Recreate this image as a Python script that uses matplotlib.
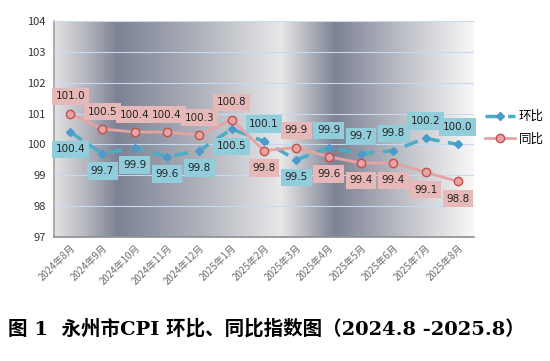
import matplotlib.pyplot as plt
import numpy as np
from matplotlib.colors import LinearSegmentedColormap

plt.rcParams['font.family'] = ['Noto Sans CJK SC', 'DejaVu Sans']

months = ['2024年8月', '2024年9月', '2024年10月', '2024年11月', '2024年12月',
          '2025年1月', '2025年2月', '2025年3月', '2025年4月', '2025年5月',
          '2025年6月', '2025年7月', '2025年8月']
huanbi = [100.4, 99.7, 99.9, 99.6, 99.8, 100.5, 100.1, 99.5, 99.9, 99.7, 99.8, 100.2, 100.0]
tongbi = [101.0, 100.5, 100.4, 100.4, 100.3, 100.8, 99.8, 99.9, 99.6, 99.4, 99.4, 99.1, 98.8]
# label above (+1) or below (-1) the point
huanbi_pos = [-1, -1, -1, -1, -1, -1, 1, -1, 1, 1, 1, 1, 1]
tongbi_pos = [1, 1, 1, 1, 1, 1, -1, 1, -1, -1, -1, -1, -1]

fig = plt.figure(figsize=(5.5, 3.61), dpi=100)
ax = fig.add_axes([54 / 550, 1 - 237 / 361, 420 / 550, 216 / 361])

# metallic background
cmap = LinearSegmentedColormap.from_list('metal', [
    (0.0, '#e2e2e4'), (0.07, '#b8b9c1'), (0.15, '#7d8294'), (0.35, '#b0b3bc'),
    (0.54, '#e8e8e9'), (0.59, '#c0c2c8'), (0.67, '#7d8294'), (0.85, '#c4c6cc'),
    (1.0, '#f8f8f8')])
grad = np.linspace(0, 1, 512).reshape(1, -1)
ax.imshow(grad, cmap=cmap, aspect='auto', extent=[-0.5, 12.5, 97, 104], zorder=0)

x = np.arange(len(months))
ax.set_xlim(-0.5, 12.5)
ax.set_ylim(97, 104)
ax.set_yticks(range(97, 105))
ax.yaxis.grid(True, color='#c6d9f1', lw=0.8, zorder=1)
ax.set_axisbelow(False)

ax.plot(x, huanbi, color='#4bacc6', lw=2.5, ls=(0, (4, 2.5)), marker='D', ms=4.5,
        mfc='#4a9bc9', mec='#4a9bc9', zorder=3, label='环比')
ax.plot(x, tongbi, color='#e6a3a2', lw=2, marker='o', ms=6,
        mfc='#e6a3a2', mec='#c0504d', mew=1, zorder=3, label='同比')

for xi, v, p in zip(x, huanbi, huanbi_pos):
    ax.annotate(f'{v:.1f}', (xi, v), xytext=(0, 12.5 * p), textcoords='offset points',
                ha='center', va='center', fontsize=7.5, color='#222222', zorder=4,
                family='DejaVu Sans',
                bbox=dict(boxstyle='square,pad=0.35', fc='#92cddc', ec='none'))
for xi, v, p in zip(x, tongbi, tongbi_pos):
    ax.annotate(f'{v:.1f}', (xi, v), xytext=(0, 12.5 * p), textcoords='offset points',
                ha='center', va='center', fontsize=7.5, color='#222222', zorder=4,
                family='DejaVu Sans',
                bbox=dict(boxstyle='square,pad=0.35', fc='#e6b9b8', ec='none'))

ax.set_xticks(x)
ax.set_xticklabels(months, rotation=45, ha='right', rotation_mode='anchor',
                   fontsize=7, color='#6d6d6d')
ax.tick_params(axis='x', length=0, pad=4)
ax.tick_params(axis='y', length=0, labelsize=8, colors='#333333', pad=6)
for s in ['top', 'right']:
    ax.spines[s].set_visible(False)
ax.spines['left'].set_color('#a0a0a0')
ax.spines['bottom'].set_color('#8c8c8c')
ax.spines['left'].set_linewidth(1.2)
ax.spines['bottom'].set_linewidth(1.2)

ax.legend(loc='center left', bbox_to_anchor=(1.0, 0.505), frameon=False,
          fontsize=9, handlelength=2.4, handletextpad=0.3, labelspacing=0.75,
          borderaxespad=0.5)

fig.text(0.015, 1 - 329 / 361, '图 1  永州市CPI 环比、同比指数图（2024.8 -2025.8）',
         fontsize=14, fontweight='bold', va='center', ha='left', color='black',
         family=['DejaVu Serif', 'Noto Sans CJK SC'])

fig.savefig('out.png', dpi=100)
